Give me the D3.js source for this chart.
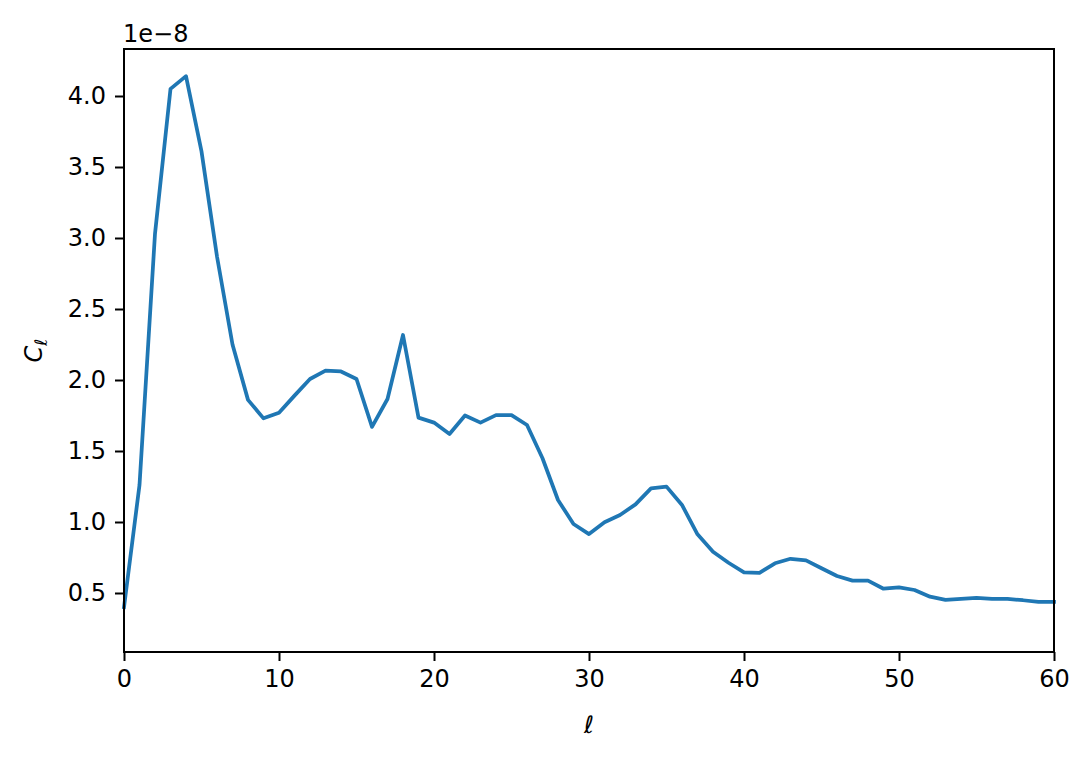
<!DOCTYPE html>
<html><head><meta charset="utf-8">
<script src="https://cdn.jsdelivr.net/npm/d3@7"></script>
<style>body{margin:0;background:#fff}svg{display:block}text{font-family:"DejaVu Sans",sans-serif;fill:#000}</style>
</head><body><svg id="c" width="1091" height="760"></svg>
<script>
const ells = d3.range(0, 61);
const cls = [0.40,1.26,3.03,4.05,4.14,3.61,2.87,2.25,1.86,1.73,1.77,1.89,2.007,2.066,2.06,2.007,1.67,1.866,2.317,1.735,1.70,1.62,1.75,1.70,1.753,1.753,1.683,1.449,1.155,0.986,0.915,0.998,1.049,1.124,1.237,1.249,1.12,0.913,0.79,0.713,0.645,0.642,0.709,0.741,0.730,0.674,0.620,0.587,0.587,0.530,0.54,0.521,0.474,0.451,0.458,0.465,0.458,0.458,0.449,0.437,0.437];
const xTicks = [0,10,20,30,40,50,60];
const yTicks = [0.5,1.0,1.5,2.0,2.5,3.0,3.5,4.0];

const L=124,R=1054,T=49,B=652;
const svg=d3.select("#c");
const x=d3.scaleLinear().domain([0,60]).range([L,R]);
const y=d3.scaleLinear().domain([0.0845,4.331]).range([B,T]);
const fs=24;
const gx=svg.append("g").attr("transform",`translate(0,${B})`)
  .call(d3.axisBottom(x).tickValues(xTicks).tickSize(9).tickPadding(9).tickFormat(d3.format("d")));
const gy=svg.append("g").attr("transform",`translate(${L},0)`)
  .call(d3.axisLeft(y).tickValues(yTicks).tickSize(9).tickPadding(9).tickFormat(d3.format(".1f")));
[gx,gy].forEach(g=>{g.select(".domain").remove();g.selectAll("line").attr("stroke","#000").attr("stroke-width",2);
  g.selectAll("text").attr("font-size",fs).attr("font-family","DejaVu Sans");});

svg.append("path").datum(ells.map((l,i)=>[l,cls[i]]))
  .attr("fill","none").attr("stroke","#1f77b4").attr("stroke-width",3.75).attr("stroke-linejoin","round").attr("stroke-linecap","square")
  .attr("d",d3.line().x(d=>x(d[0])).y(d=>y(d[1])));

svg.append("rect").attr("x",L).attr("y",T).attr("width",R-L).attr("height",B-T)
  .attr("fill","none").attr("stroke","#000").attr("stroke-width",2);

svg.append("text").attr("x",L-1).attr("y",T-7).attr("font-size",fs).text("1e\u22128");
svg.append("text").attr("x",(L+R)/2).attr("y",733).attr("text-anchor","middle").attr("font-size",fs).attr("font-style","italic").text("\u2113");
const yl=svg.append("text").attr("transform",`translate(42,${(T+B)/2}) rotate(-90)`).attr("text-anchor","middle").attr("font-size",fs);
yl.append("tspan").attr("font-style","italic").text("C");
yl.append("tspan").attr("font-style","italic").attr("font-size",fs-7).attr("dy",5).text("\u2113");
</script></body></html>
